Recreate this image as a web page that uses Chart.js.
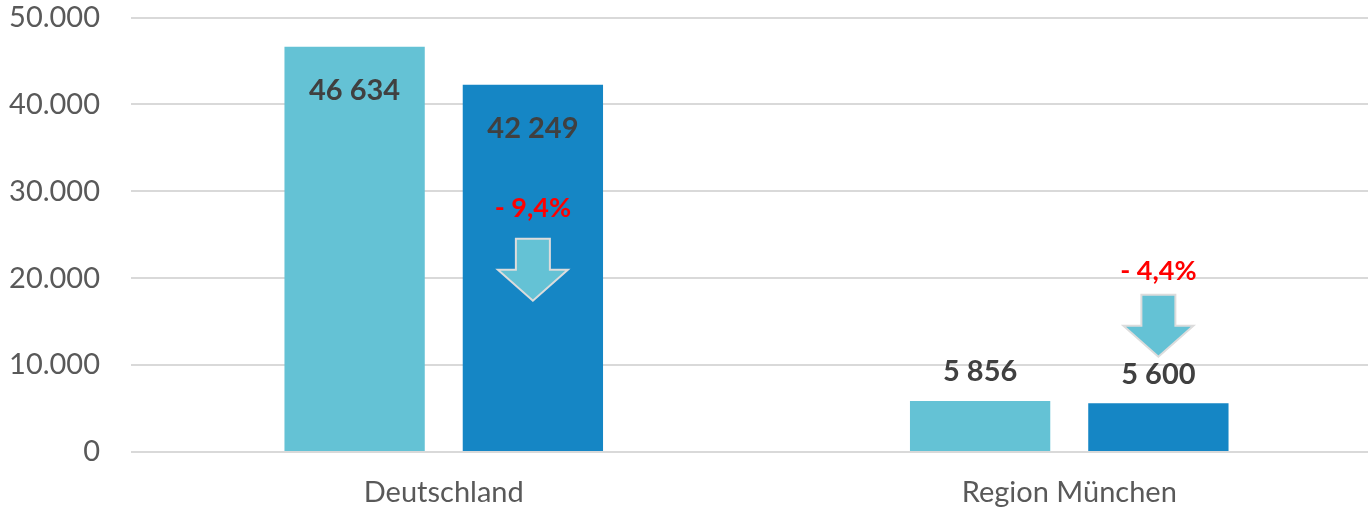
<!DOCTYPE html>
<html>
<head>
<meta charset="utf-8">
<script src="https://cdn.jsdelivr.net/npm/chart.js@4"></script>
<style>
  html, body { margin: 0; padding: 0; background: #fff; overflow: hidden; }
  #wrap { width: 1382px; height: 507px; position: relative; }
</style>
</head>
<body>
<div id="wrap"><canvas id="chart"></canvas></div>
<script>
'use strict';

// data
var categories = ['Deutschland', 'Region München'];
var valuesBefore = [46634, 5856];
var valuesAfter = [42249, 5600];
var yTicks = [0, 10000, 20000, 30000, 40000, 50000];

// where the change arrows sit (axis values)
var percentLabelAt = [28000, 20750];
var arrowTopAt = [24550, 18100];

var fontFamily = 'Lato, "Open Sans", sans-serif';

function fmtSpace(v) {
  return String(v).replace(/\B(?=(\d{3})+(?!\d))/g, ' ');
}

function fmtPct(a, b) {
  var p = (b - a) / a * 100;
  return '- ' + Math.abs(p).toFixed(1).replace('.', ',') + '%';
}

var labelPlugin = {
  id: 'labels',
  afterDatasetsDraw: function(chart) {
    var ctx = chart.ctx;
    var y = chart.scales.y;
    ctx.save();
    ctx.textAlign = 'center';
    ctx.textBaseline = 'middle';
    ctx.font = 'bold 29px ' + fontFamily;
    ctx.fillStyle = '#404040';
    chart.data.datasets.forEach(function(ds, di) {
      chart.getDatasetMeta(di).data.forEach(function(bar, i) {
        var v = ds.data[i];
        var ly = v > 20000 ? bar.y + 44 : bar.y - 29;
        ctx.fillText(fmtSpace(v), bar.x, ly);
      });
    });

    // change arrows over the second bar
    var meta = chart.getDatasetMeta(1);
    meta.data.forEach(function(bar, i) {
      var cx = bar.x;
      ctx.font = 'bold 27px ' + fontFamily;
      ctx.fillStyle = '#ff0000';
      ctx.fillText(fmtPct(valuesBefore[i], valuesAfter[i]), cx, y.getPixelForValue(percentLabelAt[i]));

      var top = y.getPixelForValue(arrowTopAt[i]);
      var sw = 17, hw = 35, hh = 31, total = 62;
      ctx.beginPath();
      ctx.moveTo(cx - sw, top);
      ctx.lineTo(cx + sw, top);
      ctx.lineTo(cx + sw, top + total - hh);
      ctx.lineTo(cx + hw, top + total - hh);
      ctx.lineTo(cx, top + total);
      ctx.lineTo(cx - hw, top + total - hh);
      ctx.lineTo(cx - sw, top + total - hh);
      ctx.closePath();
      ctx.fillStyle = '#64c2d5';
      ctx.fill();
      ctx.lineWidth = 2;
      ctx.strokeStyle = '#dcdcdc';
      ctx.stroke();
    });
    ctx.restore();
  }
};

var chart = new Chart(document.getElementById('chart').getContext('2d'), {
  type: 'bar',
  data: {
    labels: categories,
    datasets: [{
      data: valuesBefore,
      backgroundColor: '#64c2d5',
      categoryPercentage: 0.57,
      barPercentage: 0.787
    }, {
      data: valuesAfter,
      backgroundColor: '#1586c5',
      categoryPercentage: 0.57,
      barPercentage: 0.787
    }]
  },
  options: {
    responsive: true,
    maintainAspectRatio: false,
    animation: false,
    layout: { padding: 0 },
    plugins: {
      legend: { display: false },
      tooltip: { enabled: false }
    },
    scales: {
      x: {
        grid: { display: false, drawTicks: false },
        border: { display: false },
        afterFit: function(scale) { scale.height = 55; },
        ticks: {
          color: '#595959',
          font: { family: fontFamily, size: 29, lineHeight: 1.0 },
          padding: 26
        }
      },
      y: {
        min: 0,
        max: 50000,
        afterBuildTicks: function(scale) {
          scale.ticks = yTicks.map(function(v) { return { value: v }; });
        },
        afterFit: function(scale) { scale.width = 131; },
        grid: { color: '#d9d9d9', lineWidth: 2, drawTicks: true, tickLength: 28, tickColor: 'rgba(0,0,0,0)' },
        border: { display: false },
        ticks: {
          color: '#595959',
          font: { family: fontFamily, size: 29, lineHeight: 1.0 },
          padding: 3,
          callback: function(v) { return v.toLocaleString('de-DE'); }
        }
      }
    }
  },
  plugins: [labelPlugin]
});
</script>
</body>
</html>
